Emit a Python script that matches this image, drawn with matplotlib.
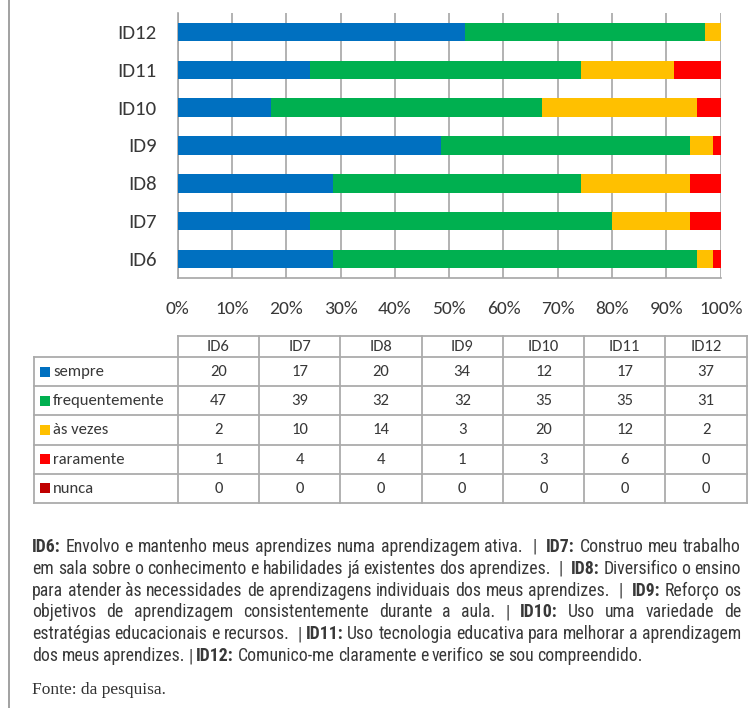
import matplotlib
matplotlib.use('Agg')
import matplotlib.pyplot as plt
from matplotlib import font_manager
from matplotlib.font_manager import FontProperties
from matplotlib.patches import Rectangle
import numpy as np

# ---------------- data ----------------
categories = ['ID6', 'ID7', 'ID8', 'ID9', 'ID10', 'ID11', 'ID12']
series_names = ['sempre', 'frequentemente', 'às vezes', 'raramente', 'nunca']
sempre = [20, 17, 20, 34, 12, 17, 37]
frequentemente = [47, 39, 32, 32, 35, 35, 31]
as_vezes = [2, 10, 14, 3, 20, 12, 2]
raramente = [1, 4, 4, 1, 3, 6, 0]
nunca = [0, 0, 0, 0, 0, 0, 0]
series_values = [sempre, frequentemente, as_vezes, raramente, nunca]
colors = ['#0070C0', '#00B050', '#FFC000', '#FF0000', '#C00000']
xtick_values = [0, 10, 20, 30, 40, 50, 60, 70, 80, 90, 100]
xtick_labels = [f'{v}%' for v in xtick_values]

caption_lines = [
    "**ID6:** Envolvo e mantenho meus aprendizes numa aprendizagem ativa.  |  **ID7:** Construo meu trabalho",
    "em sala sobre o conhecimento e habilidades já existentes dos aprendizes.  |  **ID8:** Diversifico o ensino",
    "para atender às necessidades de aprendizagens individuais dos meus aprendizes.  |  **ID9:** Reforço os",
    "objetivos de aprendizagem consistentemente durante a aula. | **ID10:** Uso uma variedade de",
    "estratégias educacionais e recursos.  | **ID11:** Uso tecnologia educativa para melhorar a aprendizagem",
    "dos meus aprendizes. | **ID12:** Comunico-me claramente e verifico se sou compreendido.",
]
source_text = "Fonte: da pesquisa."


def pick(names):
    for n in names:
        try:
            font_manager.findfont(FontProperties(family=n), fallback_to_default=False)
            return n
        except Exception:
            pass
    return 'DejaVu Sans'


def find_condensed():
    cands = [('Liberation Sans Narrow', 'normal'), ('Arial Narrow', 'normal'),
             ('Roboto Condensed', 'normal'), ('Open Sans Condensed', 'normal'),
             ('Noto Sans', 'condensed'), ('Roboto', 'condensed'),
             ('Open Sans', 'condensed'), ('DejaVu Sans', 'condensed')]
    for fam, stretch in cands:
        try:
            path = font_manager.findfont(FontProperties(family=fam, stretch=stretch),
                                         fallback_to_default=False)
            low = path.lower()
            if 'narrow' in low or 'cond' in low:
                return fam, stretch
        except Exception:
            pass
    return pick(['Liberation Sans', 'DejaVu Sans']), 'normal'


chart_font = pick(['Carlito', 'Lato', 'Open Sans'])
cap_font, cap_stretch = find_condensed()
serif_font = pick(['Liberation Serif', 'DejaVu Serif'])

W, H = 755, 708
DPI = 100
fig = plt.figure(figsize=(W / DPI, H / DPI), dpi=DPI)
fig.patch.set_facecolor('white')

text_color = '#383838'
grid_color = '#A6A6A6'

# ---------------- chart ----------------
x_left, x_right = 177.7, 720.7
y_top, y_bot = 13.3, 277.7
ax = fig.add_axes([x_left / W, 1 - y_bot / H, (x_right - x_left) / W, (y_bot - y_top) / H])

vals = np.array(series_values, dtype=float)
totals = vals.sum(axis=0)
pct = vals / totals * 100
ypos = np.arange(len(categories))
left = np.zeros(len(categories))
for i in range(len(series_names)):
    ax.barh(ypos, pct[i], left=left, height=0.49, color=colors[i], zorder=3)
    left += pct[i]

ax.set_xlim(0, 100)
ax.set_ylim(-0.5, len(categories) - 0.5)
ax.set_xticks(xtick_values)
ax.set_xticklabels(xtick_labels)
ax.set_yticks(ypos)
ax.set_yticklabels(categories)
ax.grid(axis='x', color=grid_color, linewidth=1.2, zorder=0)
for s in ['top', 'right']:
    ax.spines[s].set_visible(False)
for s in ['left', 'bottom']:
    ax.spines[s].set_color(grid_color)
    ax.spines[s].set_linewidth(1.2)
ax.tick_params(axis='both', length=0, labelcolor=text_color)
ax.tick_params(axis='x', pad=17, labelsize=14)
ax.tick_params(axis='y', pad=15, labelsize=15)
for lab in ax.get_xticklabels() + ax.get_yticklabels():
    lab.set_fontfamily(chart_font)

# ---------------- overlay (pixel coordinates) ----------------
ov = fig.add_axes([0, 0, 1, 1], zorder=5)
ov.set_xlim(0, W)
ov.set_ylim(H, 0)
ov.axis('off')
ov.patch.set_alpha(0)

# left border line
ov.plot([9, 9], [0, H], color='#9a9a9a', lw=1.3, solid_capstyle='butt')

# ---------------- data table ----------------
tbl_left = 34
tbl_lab_right = 177.7
tbl_right = 746.7
top_y = 336
head_bot = 357
row_h = (503 - head_bot) / len(series_names)
ncol = len(categories)
col_w = (tbl_right - tbl_lab_right) / ncol
border = '#ABABAB'
lw = 1.3

ov.plot([tbl_lab_right, tbl_right], [top_y, top_y], color=border, lw=lw)
for r in range(len(series_names) + 1):
    yy = head_bot + r * row_h
    ov.plot([tbl_left, tbl_right], [yy, yy], color=border, lw=lw)
y_end = head_bot + len(series_names) * row_h
ov.plot([tbl_left, tbl_left], [head_bot, y_end], color=border, lw=lw)
for c in range(ncol + 1):
    xx = tbl_lab_right + c * col_w
    ov.plot([xx, xx], [top_y, y_end], color=border, lw=lw)

tfs = 12
for c, cat in enumerate(categories):
    ov.text(tbl_lab_right + (c + 0.5) * col_w, (top_y + head_bot) / 2 + 0.5, cat,
            ha='center', va='center', fontsize=tfs, family=chart_font, color=text_color)
for r, name in enumerate(series_names):
    yc = head_bot + (r + 0.5) * row_h
    ov.add_patch(Rectangle((40, yc - 5), 10, 10, color=colors[r], lw=0))
    ov.text(53, yc + 0.5, name, ha='left', va='center', fontsize=tfs,
            family=chart_font, color=text_color)
    for c in range(ncol):
        ov.text(tbl_lab_right + (c + 0.5) * col_w, yc + 0.5, str(series_values[r][c]),
                ha='center', va='center', fontsize=tfs, family=chart_font, color=text_color)

# ---------------- justified caption ----------------
fig.canvas.draw()
renderer = fig.canvas.get_renderer()

cx0, cx1 = 32, 741
cy0 = 547
cdy = 21.8


def tokenize(line):
    toks = []
    weight = 0
    for p in line.split(' '):
        if p == '':
            weight += 1
            continue
        toks.append((p.replace('**', ''), p.startswith('**'), weight))
        weight = 1
    return toks


trial = 10.0
all_objs = []
max_size = 13.0
for i, line in enumerate(caption_lines):
    yy = cy0 + i * cdy
    toks = tokenize(line)
    objs = [ov.text(0, yy, w, ha='left', va='center', fontsize=trial, family=cap_font,
                    fontstretch=cap_stretch, fontweight='bold' if b else 'normal',
                    color=text_color) for w, b, _ in toks]
    widths = [t.get_window_extent(renderer).width for t in objs]
    units = sum(wt for _, _, wt in toks[1:])
    if i < len(caption_lines) - 1:
        per_pt = sum(widths) / trial + units * 0.24 * DPI / 72
        max_size = min(max_size, (cx1 - cx0) / per_pt)
    all_objs.append((toks, objs))

cap_size = max_size
space_px = 0.2 * cap_size * DPI / 72
for i, (toks, objs) in enumerate(all_objs):
    for t in objs:
        t.set_fontsize(cap_size)
    widths = [t.get_window_extent(renderer).width for t in objs]
    weights = [wt for _, _, wt in toks][1:]
    if i == len(all_objs) - 1:
        unit = space_px
    else:
        unit = (cx1 - cx0 - sum(widths)) / max(sum(weights), 1)
    x = cx0
    for k, t in enumerate(objs):
        if k > 0:
            x += weights[k - 1] * unit
        t.set_x(x)
        x += widths[k]

ov.text(32, 690, source_text, ha='left', va='center', fontsize=12.5,
        family=serif_font, color='#333333')

fig.savefig('out.png', dpi=DPI, facecolor='white')
